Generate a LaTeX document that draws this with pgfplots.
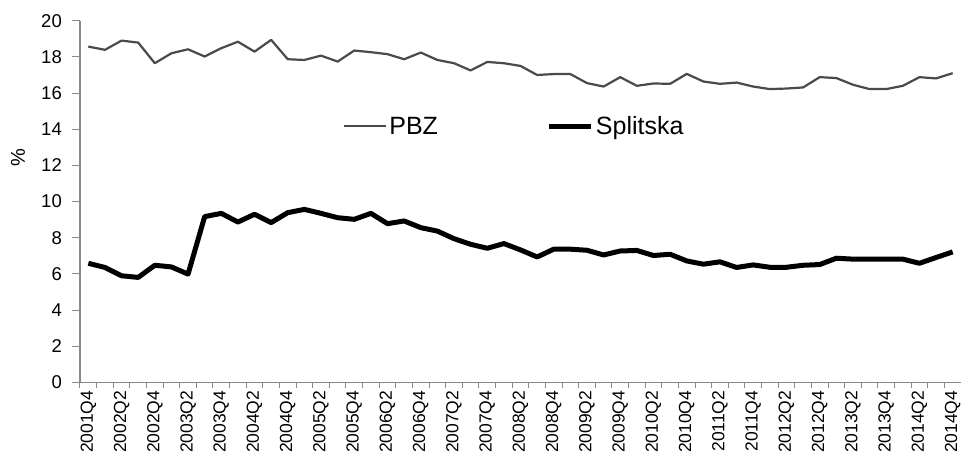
\documentclass[border=0pt]{standalone}
\usepackage{fontspec}
\setmainfont{Liberation Sans}
\usepackage{pgfplots}
\pgfplotsset{compat=1.18}
\usepackage{pgfplotstable}
\definecolor{axisgray}{HTML}{888888}
\definecolor{pbzgray}{HTML}{4A4A4A}
\pgfplotstableread{
x pbz spl
0 18.57 6.59
1 18.39 6.36
2 18.90 5.90
3 18.79 5.81
4 17.65 6.48
5 18.20 6.39
6 18.42 5.99
7 18.02 9.17
8 18.48 9.35
9 18.84 8.87
10 18.29 9.30
11 18.94 8.84
12 17.87 9.39
13 17.83 9.57
14 18.07 9.35
15 17.74 9.11
16 18.35 9.02
17 18.26 9.35
18 18.15 8.78
19 17.87 8.93
20 18.24 8.56
21 17.83 8.37
22 17.65 7.95
23 17.25 7.64
24 17.72 7.42
25 17.65 7.68
26 17.50 7.33
27 17.00 6.94
28 17.05 7.37
29 17.05 7.37
30 16.55 7.31
31 16.36 7.05
32 16.88 7.27
33 16.40 7.30
34 16.53 7.02
35 16.51 7.09
36 17.06 6.72
37 16.64 6.54
38 16.51 6.67
39 16.58 6.36
40 16.36 6.50
41 16.22 6.37
42 16.25 6.37
43 16.31 6.48
44 16.88 6.52
45 16.83 6.87
46 16.46 6.82
47 16.22 6.82
48 16.22 6.82
49 16.40 6.82
50 16.88 6.59
51 16.81 6.91
52 17.10 7.22
}\datatable
\begin{document}
\begin{tikzpicture}
\path[use as bounding box] (0pt,0pt) rectangle (961pt,-455pt);
\begin{axis}[
  at={(80pt,-382.5pt)}, anchor=south west,
  scale only axis, width=881pt, height=361.8pt,
  xmin=-0.5, xmax=52.5, ymin=0, ymax=20,
  axis x line*=bottom, axis y line*=left,
  axis line style={axisgray, line width=1.2pt},
  every tick/.style={axisgray, line width=1pt},
  tick align=outside,
  xtick={0,2,...,52},
  xticklabels={2001Q4,2002Q2,2002Q4,2003Q2,2003Q4,2004Q2,2004Q4,2005Q2,2005Q4,2006Q2,2006Q4,2007Q2,2007Q4,2008Q2,2008Q4,2009Q2,2009Q4,2010Q2,2010Q4,2011Q2,2011Q4,2012Q2,2012Q4,2013Q2,2013Q4,2014Q2,2014Q4},
  major x tick style={draw=none},
  minor xtick={-0.5,0.5,...,52.5},
  minor tick length=5pt,
  major tick length=8pt,
  ytick={0,2,...,20},
  /pgf/number format/assume math mode=true,
  xticklabel style={rotate=90, anchor=east, inner sep=0pt, font=\fontsize{17.5}{19}\selectfont},
  xticklabel shift=0pt,
  yticklabel style={inner sep=0pt, font=\fontsize{18.5}{20}\selectfont, xshift=-10pt},
  ylabel={\%},
  every axis y label/.style={at={(-62pt,225pt)}, rotate=90, anchor=center, font=\fontsize{20}{22}\selectfont},
  legend style={at={(0.2985,0.708)}, anchor=west, draw=none, fill=none, inner sep=0pt,
    font=\fontsize{25}{28}\selectfont, legend columns=2,
    /tikz/every even column/.append style={column sep=107pt}},
  legend image code/.code={\draw[#1] (0pt,0pt) -- (42pt,0pt);},
  legend cell align=left,
  clip=false,
]
\addplot[pbzgray, line width=2.2pt, line join=round] table[x=x, y=pbz] {\datatable};
\addlegendentry{PBZ}
\addplot[black, line width=5pt, line join=round] table[x=x, y=spl] {\datatable};
\addlegendentry{Splitska}
\end{axis}
\end{tikzpicture}
\end{document}
